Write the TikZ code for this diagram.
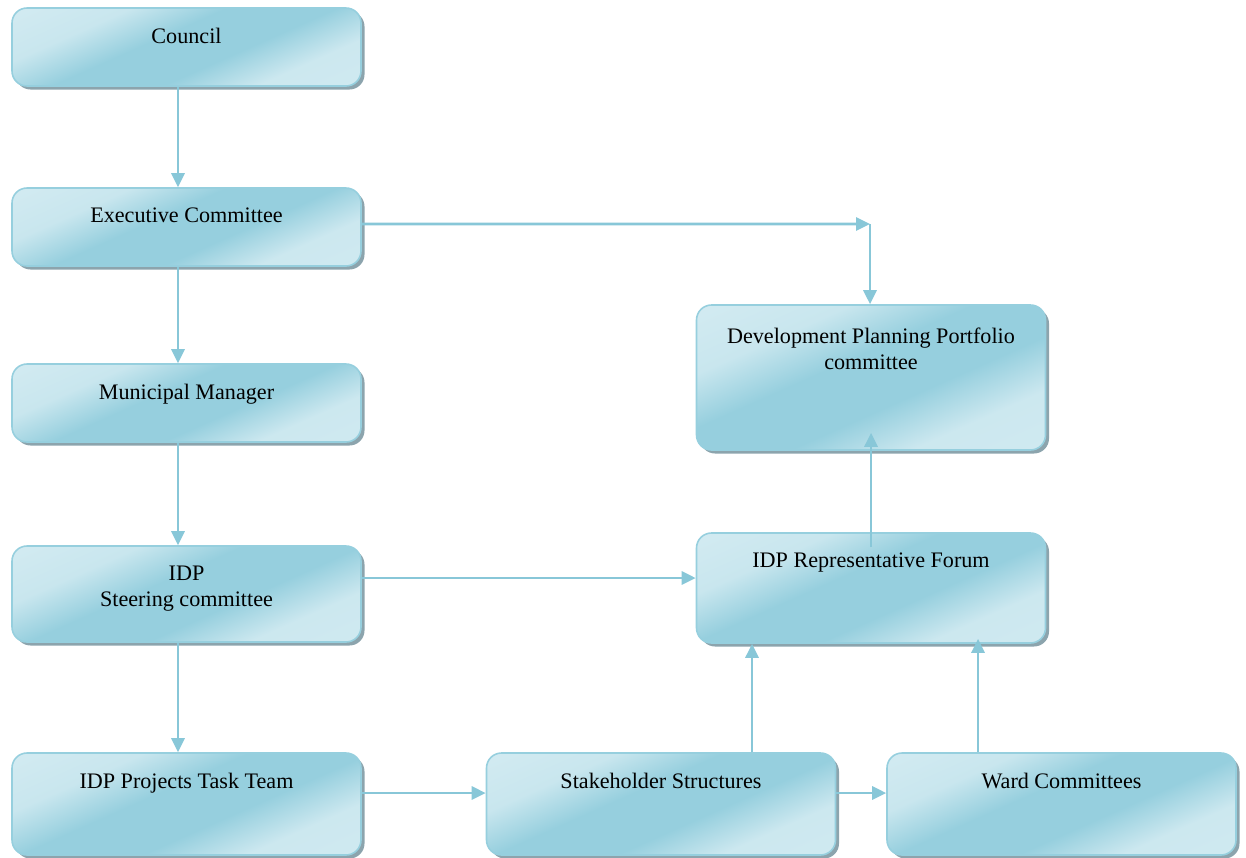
\documentclass[tikz,border=0pt]{standalone}
\usepackage{fontspec}
\setmainfont{Liberation Serif}
\usetikzlibrary{arrows.meta,shadows}

\definecolor{boxlight}{RGB}{222,240,245}
\definecolor{boxdark}{RGB}{150,207,222}
\definecolor{boxline}{RGB}{150,207,222}
\definecolor{boxshadow}{RGB}{140,164,173}
\definecolor{linkc}{RGB}{136,199,216}
\pgfdeclareverticalshading{glossy}{100bp}{color(0bp)=(boxlight!85!boxdark); color(30bp)=(boxlight!75!boxdark);
  color(42bp)=(boxdark); color(56bp)=(boxdark); color(68bp)=(boxlight!70!boxdark); color(100bp)=(boxlight)}

\tikzset{
  orgbox/.style={rounded corners=0.3cm, draw=boxline, line width=0.9pt,
    shade, shading=glossy, shading angle=24,
    drop shadow={shadow xshift=0.07cm, shadow yshift=-0.07cm, fill=boxshadow, opacity=1},
    minimum width=6.98cm, inner sep=0pt},
  boxtext/.style={anchor=north, yshift=-0.41cm, align=center, inner sep=0pt,
    font=\fontsize{12.6}{14.6}\selectfont},
  link/.style={draw=linkc, line width=1.6pt, -{Triangle[length=0.28cm,width=0.26cm]}}
}

\begin{document}
\begin{tikzpicture}
\useasboundingbox (0,0) rectangle (24.92,-17.14);
% left column
\draw (3.73,-0.94) node[orgbox,minimum height=1.56cm,label={[boxtext]north:Council}](council) {};
\draw (3.73,-4.54) node[orgbox,minimum height=1.56cm,label={[boxtext]north:Executive Committee}](exec) {};
\draw (3.73,-8.06) node[orgbox,minimum height=1.56cm,label={[boxtext]north:Municipal Manager}](manager) {};
\draw (3.73,-11.88) node[orgbox,minimum height=1.92cm,label={[boxtext]north:IDP\\Steering committee}](steering) {};
\draw (3.73,-16.08) node[orgbox,minimum height=2.04cm,label={[boxtext]north:IDP Projects Task Team}](taskteam) {};
% bottom row
\draw (13.22,-16.08) node[orgbox,minimum height=2.04cm,label={[boxtext]north:Stakeholder Structures}](stakeholder) {};
\draw (21.23,-16.08) node[orgbox,minimum height=2.04cm,label={[boxtext]north:Ward Committees}](ward) {};
% right column
\draw (17.42,-7.55) node[orgbox,minimum height=2.9cm,label={[boxtext,yshift=-0.06cm]north:Development Planning Portfolio\\committee}](portfolio) {};
\draw (17.42,-11.76) node[orgbox,minimum height=2.2cm,label={[boxtext]north:IDP Representative Forum}](forum) {};
\coordinate (corner) at (17.40,-4.48);
% connectors
\draw[link] ([xshift=-0.17cm]council.south) -- ([xshift=-0.17cm]exec.north);
\draw[link] ([xshift=-0.17cm]exec.south) -- ([xshift=-0.17cm]manager.north);
\draw[link] ([xshift=-0.17cm]manager.south) -- ([xshift=-0.17cm]steering.north);
\draw[link] ([xshift=-0.17cm]steering.south) -- ([xshift=-0.17cm]taskteam.north);
\draw[link] ([yshift=0.06cm]exec.east) -- (corner);
\draw[link] (corner) -- (corner |- portfolio.north);
\draw[link] ([yshift=0.32cm]steering.east) -- ([yshift=0.32cm]steering.east -| forum.west);
\draw[link] ([yshift=-0.3cm]forum.north) -- ([yshift=0.36cm]portfolio.south);
\draw[link] ([yshift=0.22cm]taskteam.east) -- ([yshift=0.22cm]stakeholder.west);
\draw[link] ([yshift=0.22cm]stakeholder.east) -- ([yshift=0.22cm]ward.west);
\draw[link] ([xshift=1.82cm]stakeholder.north) -- ([xshift=1.82cm]stakeholder.north |- forum.south);
\draw[link] ([xshift=-1.67cm]ward.north) -- ([xshift=-1.67cm,yshift=0.1cm]ward.north |- forum.south);
\end{tikzpicture}
\end{document}
